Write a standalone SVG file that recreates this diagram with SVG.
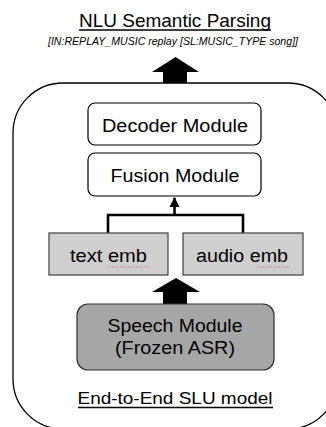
<svg xmlns="http://www.w3.org/2000/svg" width="326" height="427" viewBox="0 0 326 427">
  <defs>
    <style>
      text { font-family: "Liberation Sans", Arial, sans-serif; fill: #000; }
      .lbl { font-size: 18px; text-anchor: middle; }
      .white { fill: #fff; stroke: #000; stroke-width: 1.2; }
      .emb { fill: #d0cfcf; stroke: #404040; stroke-width: 1.2; }
      .speech { fill: #a6a6a6; stroke: #303030; stroke-width: 1.2; }
      .link { fill: none; stroke: #000; stroke-width: 2.6; }
      .squiggle { fill: none; stroke: #e05050; stroke-width: 0.8; stroke-dasharray: 1 1; }
      .bigarrow { fill: #000; }
    </style>
    <marker id="tip" viewBox="0 0 10 10" refX="9" refY="5" markerWidth="4" markerHeight="4" orient="auto" markerUnits="strokeWidth">
      <path d="M0,0 L10,5 L0,10 z" fill="#000"/>
    </marker>
  </defs>

  <!-- heading -->
  <g id="heading">
    <text x="175" y="27" font-size="19" text-anchor="middle" textLength="192" lengthAdjust="spacingAndGlyphs">NLU Semantic Parsing</text>
    <line x1="79" y1="30" x2="271" y2="30" stroke="#000" stroke-width="1.3"/>
    <text x="173" y="45" font-size="11.5" font-style="italic" text-anchor="middle" textLength="250" lengthAdjust="spacingAndGlyphs">[IN:REPLAY_MUSIC replay [SL:MUSIC_TYPE song]]</text>
  </g>

  <!-- outer model frame -->
  <g id="slu-model">
    <rect x="13" y="83" width="325" height="346" rx="50" ry="50" fill="none" stroke="#000" stroke-width="1.3"/>
    <text x="175" y="404" font-size="17" text-anchor="middle" textLength="195" lengthAdjust="spacingAndGlyphs">End-to-End SLU model</text>
    <line x1="78" y1="407.5" x2="273" y2="407.5" stroke="#000" stroke-width="1.3"/>
  </g>

  <!-- connectors -->
  <g id="connectors">
    <!-- output arrow -->
    <polygon class="bigarrow" points="175.5,57 199,72 187,72 187,83 163,83 163,72 152,72"/>
    <!-- speech to embeddings arrow -->
    <polygon class="bigarrow" points="176,278 200,292 187,292 187,304 163,304 163,292 152,292"/>
    <!-- embeddings merge into fusion -->
    <path class="link" d="M108,233 V215 H243 V233"/>
    <path class="link" d="M174.5,215 V198" marker-end="url(#tip)"/>
  </g>

  <g id="decoder">
    <rect class="white" x="88" y="103" width="173" height="42" rx="7"/>
    <text class="lbl" x="175" y="132" textLength="146" lengthAdjust="spacingAndGlyphs">Decoder Module</text>
  </g>

  <g id="fusion">
    <rect class="white" x="88" y="153" width="173" height="43" rx="7"/>
    <text class="lbl" x="175" y="182" textLength="129" lengthAdjust="spacingAndGlyphs">Fusion Module</text>
  </g>

  <g id="text-emb">
    <rect class="emb" x="49" y="233" width="119" height="42"/>
    <text class="lbl" x="108.5" y="262" textLength="77" lengthAdjust="spacingAndGlyphs">text emb</text>
    <path class="squiggle" d="M108,267 q1.5,-1 3,0 t3,0 t3,0 t3,0 t3,0 t3,0 t3,0 t3,0 t3,0 t3,0 t3,0 t3,0 t3,0 t3,0"/>
  </g>

  <g id="audio-emb">
    <rect class="emb" x="183" y="233" width="120" height="42"/>
    <text class="lbl" x="242" y="262" textLength="92" lengthAdjust="spacingAndGlyphs">audio emb</text>
    <path class="squiggle" d="M257,267 q1.5,-1 3,0 t3,0 t3,0 t3,0 t3,0 t3,0 t3,0 t3,0 t3,0 t3,0 t3,0"/>
  </g>

  <g id="speech">
    <rect class="speech" x="77" y="304" width="197" height="66" rx="11"/>
    <text class="lbl" x="175" y="332" textLength="135" lengthAdjust="spacingAndGlyphs">Speech Module</text>
    <text class="lbl" x="175" y="354" textLength="120" lengthAdjust="spacingAndGlyphs">(Frozen ASR)</text>
  </g>
</svg>
